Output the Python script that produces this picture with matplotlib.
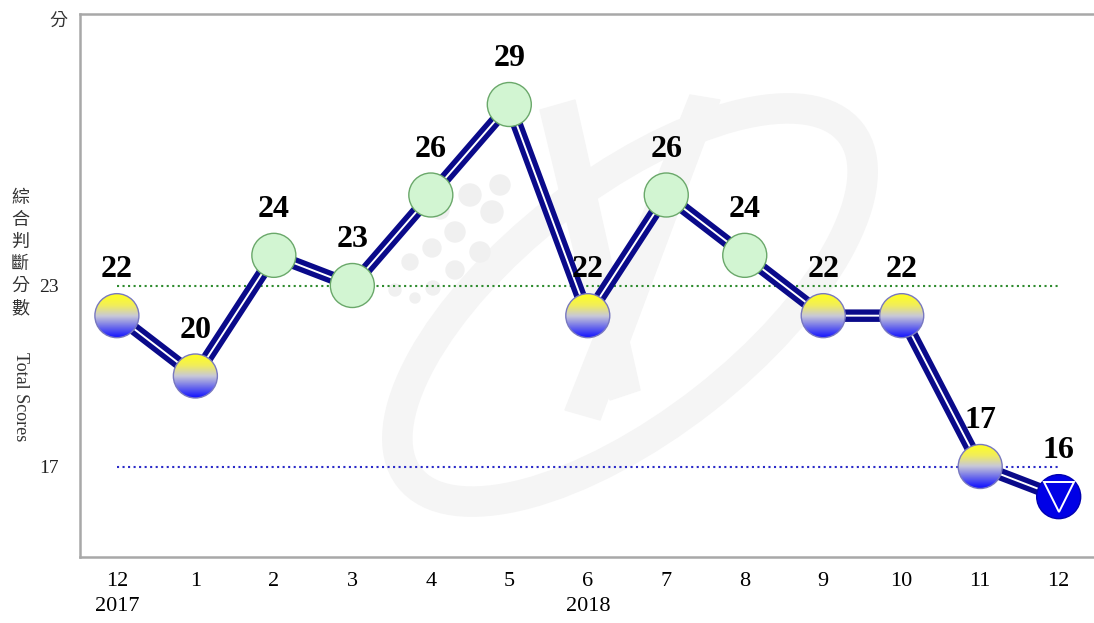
import numpy as np
import matplotlib
matplotlib.use("Agg")
import matplotlib.pyplot as plt
from matplotlib.patches import Ellipse, Circle, Polygon
from matplotlib.colors import LinearSegmentedColormap
from matplotlib.transforms import IdentityTransform

# data
months = ["12", "1", "2", "3", "4", "5", "6", "7", "8", "9", "10", "11", "12"]
years = ["2017", "2018"]
year_pos = [0, 6]
scores = [22, 20, 24, 23, 26, 29, 22, 26, 24, 22, 22, 17, 16]
ref_lines = [23, 17]

x = np.arange(len(scores))

fig = plt.figure(figsize=(10.94, 6.23), dpi=100)
ax = fig.add_axes([80 / 1094, 66 / 623, 1014 / 1094, 543 / 623])
ax.set_xlim(-0.47, 12.45)
ax.set_ylim(14, 32)

# faint watermark logo (decoration only, placed in pixels)
wm = "#f5f5f5"
H = 623
ax.add_patch(Ellipse((630, H - 305), 560, 240, angle=38, fill=False, lw=22,
                     edgecolor=wm, transform=IdentityTransform(), zorder=0.5))
ax.add_patch(Polygon([(540, H - 110), (575, H - 100), (640, H - 390), (610, H - 400)],
                     closed=True, color=wm, transform=IdentityTransform(), zorder=0.5))
ax.add_patch(Polygon([(690, H - 95), (720, H - 100), (600, H - 420), (565, H - 410)],
                     closed=True, color=wm, transform=IdentityTransform(), zorder=0.5))
dots = [(470, 195, 11), (492, 212, 11), (455, 232, 10), (480, 252, 10),
        (432, 248, 9), (455, 270, 9), (410, 262, 8), (433, 288, 7),
        (395, 290, 6), (415, 298, 5), (500, 185, 10), (440, 210, 9)]
for cx, cy, r in dots:
    ax.add_patch(Circle((cx, H - cy), r, color="#f0f0f0",
                        transform=IdentityTransform(), zorder=0.5))

# reference lines
ax.plot([0, 12], [ref_lines[0]] * 2, ls=":", color="#2e8b2e", lw=1.5, zorder=1)
ax.plot([0, 12], [ref_lines[1]] * 2, ls=":", color="#2a2ac8", lw=1.5, zorder=1)

# main line: navy band with thin white core
ax.plot(x, scores, color="#0a0a8a", lw=9, solid_joinstyle="round",
        solid_capstyle="round", zorder=2)
ax.plot(x, scores, color="white", lw=1.4, zorder=3)

# marker size in data units
bb = ax.get_window_extent()
sx = bb.width / (ax.get_xlim()[1] - ax.get_xlim()[0])
sy = bb.height / (ax.get_ylim()[1] - ax.get_ylim()[0])
rpx = 22
rx, ry = rpx / sx, rpx / sy

grad = LinearSegmentedColormap.from_list(
    "yb", [(0, "#ffff20"), (0.25, "#f2ee58"), (0.5, "#c8c8d8"), (1, "#1010ff")])
gvals = np.linspace(0, 1, 200).reshape(-1, 1)

for xi, v in zip(x, scores):
    if v >= 23:
        ax.add_patch(Ellipse((xi, v), 2 * rx, 2 * ry, facecolor="#d2f5d2",
                             edgecolor="#6aa86a", lw=1, zorder=4))
    elif v >= 17:
        clip = Ellipse((xi, v), 2 * rx, 2 * ry, transform=ax.transData)
        im = ax.imshow(gvals, cmap=grad, aspect="auto", origin="upper",
                       extent=[xi - rx, xi + rx, v - ry, v + ry], zorder=4,
                       interpolation="bilinear")
        im.set_clip_path(clip)
        ax.add_patch(Ellipse((xi, v), 2 * rx, 2 * ry, fill=False,
                             edgecolor="#7878c0", lw=1, zorder=5))
    else:
        ax.add_patch(Ellipse((xi, v), 2 * rx, 2 * ry, facecolor="#0000e6",
                             edgecolor="#0000b0", lw=1, zorder=4))
        ax.plot(xi, v, marker="v", ms=21, mfc="none", mec="white",
                mew=1.4, zorder=5)
    ax.annotate(str(v), (xi, v), xytext=(0, 33), textcoords="offset points",
                ha="center", va="center", fontsize=23, fontweight="bold",
                family="Liberation Serif", color="black", zorder=6)

ax.set_xlim(-0.47, 12.45)
ax.set_ylim(14, 32)

# axes styling
for s in ["left", "bottom", "top"]:
    ax.spines[s].set_color("#a8a8a8")
    ax.spines[s].set_linewidth(1.8)
ax.spines["right"].set_visible(False)

ax.set_xticks(x)
ax.set_xticklabels(months, family="Liberation Serif", fontsize=16)
ax.set_yticks(ref_lines)
ax.set_yticklabels([str(r) for r in ref_lines], family="Liberation Serif",
                   fontsize=14, color="#222222")
ax.tick_params(axis="x", length=0, pad=11)
ax.tick_params(axis="y", length=0, pad=15)

for yp, yr in zip(year_pos, years):
    ax.text(yp, -0.092, yr, transform=ax.get_xaxis_transform(), ha="center",
            va="center", fontsize=16, family="Liberation Serif")

fig.text(58 / 1094, 1 - 21 / 623, "分", ha="center", va="center",
         fontsize=13, family=["Noto Sans CJK TC", "DejaVu Sans"], color="#333333")
fig.text(20 / 1094, 1 - 253 / 623, "綜\n合\n判\n斷\n分\n數", ha="center",
         va="center", fontsize=13, linespacing=1.3,
         family=["Noto Sans CJK TC", "DejaVu Sans"], color="#333333")
fig.text(20 / 1094, 1 - 397 / 623, "Total Scores", ha="center", va="center",
         rotation=270, fontsize=13, family="Liberation Serif", color="#333333")

fig.savefig("out.png", dpi=100)
